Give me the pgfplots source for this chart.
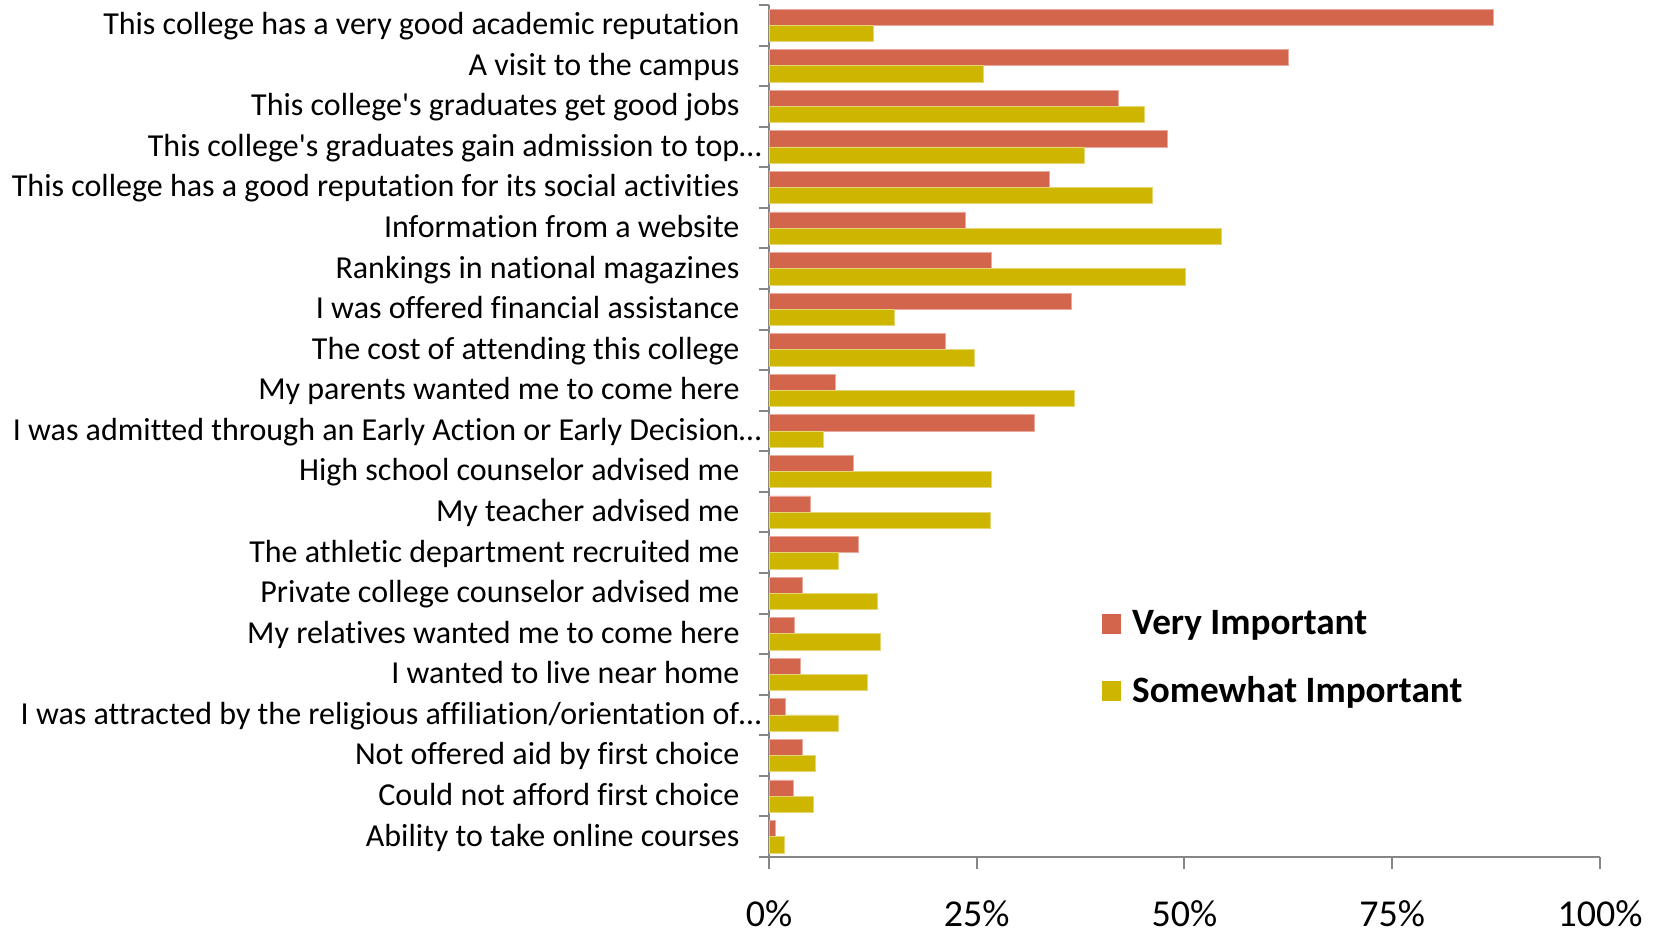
\documentclass[border=0pt]{standalone}
\usepackage{fontspec}
\setmainfont{Carlito}[Ligatures={TeXOff,CommonOff}]
\usepackage{pgfplots}
\usepackage{pgfplotstable}
\pgfplotsset{compat=1.18}
\definecolor{vired}{RGB}{211,101,76}
\definecolor{swyel}{RGB}{205,181,0}
\definecolor{axgray}{RGB}{134,134,134}

\pgfplotstableread{
idx very some
20 87.2 12.6
19 62.5 25.8
18 42.1 45.2
17 47.9 37.9
16 33.8 46.1
15 23.6 54.4
14 26.8 50.1
13 36.4 15.1
12 21.2 24.7
11 8.0 36.8
10 31.9 6.6
9 10.2 26.8
8 5.0 26.6
7 10.7 8.3
6 4.0 13.0
5 3.1 13.4
4 3.8 11.9
3 2.0 8.3
2 4.0 5.6
1 2.9 5.3
0 0.8 1.9
}\datatable

\begin{document}
\begin{tikzpicture}
\begin{axis}[
  name=ax,
  xbar,
  scale only axis,
  width=415.5pt, height=426pt,
  xmin=0, xmax=100,
  ymin=-0.5, ymax=20.5,
  axis lines*=left,
  axis line style={draw=axgray, line width=1pt},
  tick align=outside,
  xtick={0,25,50,75,100},
  xticklabels={0\%,25\%,50\%,75\%,100\%},
  major tick length=6pt,
  minor tick length=5pt,
  major x tick style={draw=axgray, line width=1pt},
  major y tick style={draw=none},
  minor y tick style={draw=axgray, line width=1pt},
  ytick={0,...,20},
  minor ytick={-0.5,0.5,...,20.5},
  yticklabels={
    Ability to take online courses,
    Could not afford first choice,
    Not offered aid by first choice,
    I was attracted by the religious affiliation/orientation of\rlap{…},
    I wanted to live near home,
    My relatives wanted me to come here,
    Private college counselor advised me,
    The athletic department recruited me,
    My teacher advised me,
    High school counselor advised me,
    I was admitted through an Early Action or Early Decision\rlap{…},
    My parents wanted me to come here,
    The cost of attending this college,
    I was offered financial assistance,
    Rankings in national magazines,
    Information from a website,
    This college has a good reputation for its social activities,
    This college's graduates gain admission to top\rlap{…},
    This college's graduates get good jobs,
    A visit to the campus,
    This college has a very good academic reputation},
  yticklabel style={font=\fontsize{16}{19}\selectfont, inner sep=0pt, anchor=base east, xshift=-8.6pt, yshift=-4.7pt},
  xticklabel style={font=\fontsize{19}{23}\selectfont, yshift=-12.5pt},
  legend style={at={(0.40,0.234)}, anchor=west, draw=none, fill=none,
    font=\fontsize{18.6}{22}\selectfont\bfseries, row sep=15.5pt, inner sep=0pt},
  legend cell align=left,
  legend image code/.code={\fill[#1,draw=none] (0pt,-5pt) rectangle (9.5pt,5pt); \path (13pt,0pt);},
]
\addplot[fill=vired, draw=vired!55!white, line width=0.4pt, bar shift=0.2, bar width=0.4] table[x=very,y=idx]{\datatable};
\addplot[fill=swyel, draw=swyel!55!white, line width=0.4pt, bar shift=-0.2, bar width=0.4] table[x=some,y=idx]{\datatable};
\legend{Very Important, Somewhat Important}
\end{axis}
\pgfresetboundingbox
\path[use as bounding box] ([xshift=-384.5pt,yshift=-36.5pt]ax.south west) rectangle ([xshift=27pt,yshift=2.5pt]ax.north east);
\end{tikzpicture}
\end{document}
